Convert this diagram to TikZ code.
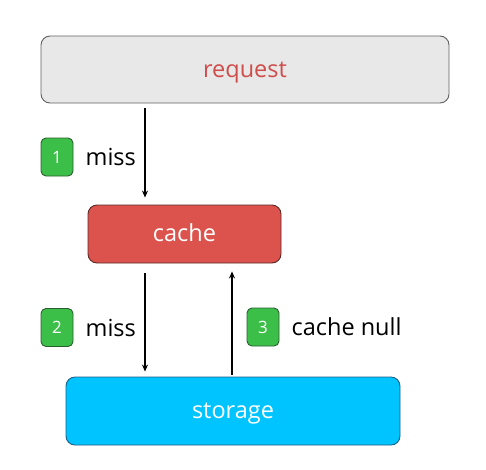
\documentclass[tikz,border=0pt]{standalone}
\usepackage{fontspec}
\setmainfont{Open Sans}
\usetikzlibrary{positioning,arrows.meta}

\definecolor{reqfill}{HTML}{E8E8E8}
\definecolor{reqedge}{HTML}{606060}
\definecolor{reqtext}{HTML}{CF4D4A}
\definecolor{cachefill}{HTML}{DC524C}
\definecolor{cacheedge}{HTML}{5C2B28}
\definecolor{storefill}{HTML}{00C4FF}
\definecolor{storeedge}{HTML}{1D5F86}
\definecolor{stepfill}{HTML}{3CBF49}
\definecolor{stepedge}{HTML}{2B5E2E}

\begin{document}
\begin{tikzpicture}[x=1pt,y=-1pt,font=\fontsize{23.5}{28}\selectfont,
    block/.style={rounded corners=9pt,line width=0.9pt,align=center,text height=20pt,text depth=4.5pt},
    stepbox/.style={draw=stepedge,fill=stepfill,text=white,rounded corners=5pt,line width=0.9pt,
        minimum width=32pt,minimum height=38pt,inner sep=0pt,font=\fontsize{17}{20}\selectfont},
    steplabel/.style={inner sep=1pt,text=black},
    flow/.style={line width=1.6pt,-{Stealth[length=7pt,width=6pt]}}]
    \useasboundingbox (0,0) rectangle (486,469);

    \node[block,draw=reqedge,fill=reqfill,text=reqtext,minimum width=408pt,minimum height=67pt] (request) at (245,69.5) {request};
    \node[block,draw=cacheedge,fill=cachefill,text=white,minimum width=193pt,minimum height=58pt] (cache) at (184.5,234) {cache};
    \node[block,draw=storeedge,fill=storefill,text=white,minimum width=334pt,minimum height=68pt] (storage) at (233,411) {storage};

    \node[stepbox] (one) at (57,157) {1};
    \node[steplabel] (missone) [right=11pt of one] {miss};
    \node[stepbox] (two) at (57,327.5) {2};
    \node[steplabel] (misstwo) [right=11pt of two] {miss};
    \node[stepbox] (three) at (263,327) {3};
    \node[steplabel] (null) [right=11pt of three] {cache null};

    \draw[flow,shorten <=5pt,shorten >=7pt] ([xshift=-39.5pt]cache.north |- request.south) -- ([xshift=-39.5pt]cache.north);
    \draw[flow,shorten <=10pt,shorten >=5pt] ([xshift=-39.5pt]cache.south) -- ([xshift=-39.5pt]cache.south |- storage.north);
    \draw[flow,shorten <=2pt,shorten >=8pt] ([xshift=47.5pt]cache.south |- storage.north) -- ([xshift=47.5pt]cache.south);
\end{tikzpicture}
\end{document}
